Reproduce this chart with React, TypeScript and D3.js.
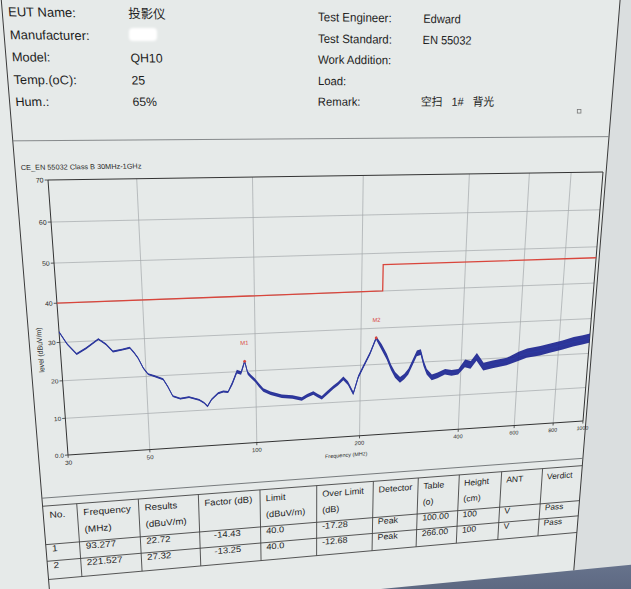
import React from 'react';
import * as d3 from 'd3';

// ---------------- data ----------------
const freqTicks = [30, 50, 100, 200, 400, 600, 800, 1000];
const freqTickLabels = ['30', '50', '100', '200', '400', '600', '800', '1000'];
const gridFreqs = [50, 100, 200, 400, 600, 800];
const levelTicks = [0, 10, 20, 30, 40, 50, 60, 70];
const levelTickLabels = ['0.0', '10', '20', '30', '40', '50', '60', '70'];

const limitFreq = [30, 230, 230, 1000];
const limitLevel = [40, 40, 47, 47];

const traceFreq = [
  30, 31.3, 33, 35, 37.8, 39.5, 41.1, 43.5, 45.6, 46.7, 47.8, 49.2, 50.6, 52.5, 55.5, 57, 58.7, 61.5, 65, 69.3,
  71.5, 73, 75, 78.3, 81, 83.5, 86, 88.6, 91, 93.277, 95, 97, 99.5, 102, 104.9, 110, 118.4, 127, 135.1, 140,
  145.9, 150, 154.4, 160, 166.8, 172, 178.3, 184, 190.9, 197.2, 203.9, 213, 221.527, 230, 238.6, 246, 253.3, 262.3, 270, 277.4,
  293, 301, 308, 315.1, 326.8, 340, 358, 375, 393, 411, 428, 445.5, 468.8, 500, 553, 600, 637, 700, 752, 820,
  889, 950, 1000,
];
const traceLevel = [
  32.7, 29.5, 26.8, 28.2, 30.4, 29.0, 27.0, 27.4, 27.8, 26.5, 25.0, 22.3, 20.6, 20.0, 19.0, 17.0, 14.3, 13.5, 13.8, 12.9,
  12.0, 11.0, 12.8, 14.4, 14.8, 14.6, 17.0, 20.0, 19.6, 22.72, 19.5, 18.5, 17.4, 16.0, 14.6, 13.6, 12.6, 12.2, 11.5, 12.3,
  13.0, 12.2, 11.5, 12.8, 14.3, 15.2, 16.6, 15.2, 12.2, 16.8, 19.6, 23.2, 27.32, 24.8, 22.0, 19.0, 16.8, 15.3, 16.2, 17.5,
  22.5, 22.8, 19.5, 17.2, 15.5, 16.0, 16.9, 16.5, 16.7, 19.0, 18.5, 20.7, 17.8, 18.3, 18.9, 20.2, 21.0, 21.5, 22.1, 22.8,
  23.6, 24.0, 24.4,
];
// half-width of the noisy trace band, per frequency band
const noiseBandEdges = [30, 85, 230, 400, 600, 1000];
const noiseBandSpread = [0.25, 0.5, 0.8, 1.1, 1.35];

const markerNames = ['M1', 'M2'];
const markerFreq = [93.277, 221.527];
const markerLevel = [22.72, 27.32];

const chartTitle = 'CE_EN 55032 Class B 30MHz-1GHz';
const xAxisTitle = 'Frequency (MHz)';
const yAxisTitle = 'level (dBuV/m)';

const infoLeftLabels = ['EUT Name:', 'Manufacturer:', 'Model:', 'Temp.(oC):', 'Hum.:'];
const infoLeftValues = ['投影仪', '', 'QH10', '25', '65%'];
const infoRightLabels = ['Test Engineer:', 'Test Standard:', 'Work Addition:', 'Load:', 'Remark:'];
const infoRightValues = ['Edward', 'EN 55032', '', '', '空扫   1#   背光'];

const tableHead1 = ['No.', 'Frequency', 'Results', 'Factor (dB)', 'Limit', 'Over Limit', 'Detector', 'Table', 'Height', 'ANT', 'Verdict'];
const tableHead2 = ['', '(MHz)', '(dBuV/m)', '', '(dBuV/m)', '(dB)', '', '(o)', '(cm)', '', ''];
const tableRow1 = ['1', '93.277', '22.72', '-14.43', '40.0', '-17.28', 'Peak', '100.00', '100', 'V', 'Pass'];
const tableRow2 = ['2', '221.527', '27.32', '-13.25', '40.0', '-12.68', 'Peak', '266.00', '100', 'V', 'Pass'];

// ---------------- layout (flat screen coords -> photo perspective) ----------------
const W = 631, H = 589;
const PX0 = 48, PX1 = 603, PY0 = 180, PY1 = 455;

function squareToQuad(p0: number[], p1: number[], p2: number[], p3: number[]) {
  const [x0, y0] = p0, [x1, y1] = p1, [x2, y2] = p2, [x3, y3] = p3;
  const dx1 = x1 - x2, dx2 = x3 - x2, dx3 = x0 - x1 + x2 - x3;
  const dy1 = y1 - y2, dy2 = y3 - y2, dy3 = y0 - y1 + y2 - y3;
  const den = dx1 * dy2 - dx2 * dy1;
  const g = (dx3 * dy2 - dx2 * dy3) / den;
  const h = (dx1 * dy3 - dx3 * dy1) / den;
  return { a: x1 - x0 + g * x1, b: x3 - x0 + h * x3, c: x0, d: y1 - y0 + g * y1, e: y3 - y0 + h * y3, f: y0, g, h };
}
const Q = squareToQuad([48, 180], [603, 172], [583, 421], [68, 455]);

function proj(fx: number, fy: number): [number, number] {
  const u = (fx - PX0) / (PX1 - PX0), v = (fy - PY0) / (PY1 - PY0);
  const w = Q.g * u + Q.h * v + 1;
  return [(Q.a * u + Q.b * v + Q.c) / w, (Q.d * u + Q.e * v + Q.f) / w];
}
function localMatrix(fx: number, fy: number) {
  const p = proj(fx, fy), px = proj(fx + 1, fy), py = proj(fx, fy + 1);
  return `matrix(${px[0] - p[0]} ${px[1] - p[1]} ${py[0] - p[0]} ${py[1] - p[1]} ${p[0]} ${p[1]})`;
}

const SANS = "'Liberation Sans', Arial, 'Noto Sans CJK SC', sans-serif";

function FText(props: any) {
  const { fx, fy, size, anchor = 'start', rot = 0, fill = '#1d1d1d', children, pre = false } = props;
  return (
    <text
      transform={localMatrix(fx, fy) + (rot ? ` rotate(${rot})` : '')}
      fontSize={size}
      textAnchor={anchor}
      fill={fill}
      fontFamily={SANS}
      style={pre ? { whiteSpace: 'pre' } : undefined}
    >
      {children}
    </text>
  );
}

function FLine(props: any) {
  const { x1, y1, x2, y2, stroke = '#444', sw = 1 } = props;
  const a = proj(x1, y1), b = proj(x2, y2);
  return <line x1={a[0]} y1={a[1]} x2={b[0]} y2={b[1]} stroke={stroke} strokeWidth={sw} />;
}

export default function App() {
  const xS = d3.scaleLog().domain([30, 1000]).range([PX0, PX1]);
  const yS = d3.scaleLinear().domain([0, 70]).range([PY1, PY0]);
  const line = d3.line();

  const spreadOf = (f: number) => {
    const i = d3.bisectRight(noiseBandEdges, f) - 1;
    return noiseBandSpread[Math.max(0, Math.min(noiseBandSpread.length - 1, i))];
  };
  const tracePts = traceFreq.map((f, i) => proj(xS(f), yS(traceLevel[i])));
  const upper = traceFreq.map((f, i) => proj(xS(f), yS(traceLevel[i] + spreadOf(f))));
  const lower = traceFreq.map((f, i) => proj(xS(f), yS(traceLevel[i] - spreadOf(f)))).reverse();
  const bandPath = (line(upper.concat(lower)) || '') + 'Z';
  const limitPts = limitFreq.map((f, i) => proj(xS(f), yS(limitLevel[i])));

  // page frame (flat coords)
  const pageL = 19.5, pageR = 606.5, pageBottom = 640.6;
  const sepY = 144;
  const tableTopLine = 500;
  const colX = [19.5, 53.1, 114.8, 176.4, 241.1, 302.1, 364.3, 414.7, 461.5, 510.6, 558.9, 606.5];
  const rowY = [508.9, 552, 571, 592];
  const infoRowY = [35.5, 55, 74, 93.7, 113];

  const rt = proj(pageR, -80), rb = proj(pageR, 700);
  const bl = proj(-50, pageBottom), br = proj(800, pageBottom);

  return (
    <svg width={W} height={H} style={{ position: 'absolute', left: 0, top: 0, display: 'block' }} xmlns="http://www.w3.org/2000/svg">
      <defs>
        <filter id="soft" x="-20%" y="-30%" width="140%" height="160%">
          <feGaussianBlur stdDeviation="1" />
        </filter>
        <linearGradient id="bezel" x1="0" y1="0" x2="0" y2="1">
          <stop offset="0" stopColor="#6a7690" />
          <stop offset="1" stopColor="#3e4960" />
        </linearGradient>
      </defs>
      <rect x={0} y={0} width={W} height={H} fill="#e6eae9" />
      <polygon points={`${rt[0]},${rt[1]} ${W + 60},${rt[1]} ${W + 60},${rb[1]} ${rb[0]},${rb[1]}`} fill="#dadedf" />
      <polygon points={`${bl[0]},${bl[1]} ${br[0]},${br[1]} ${br[0]},${H + 80} ${bl[0]},${H + 80}`} fill="url(#bezel)" />

      {/* page borders and separators */}
      <FLine x1={pageL} y1={-80} x2={pageL} y2={pageBottom} stroke="#3a3a3a" sw={1} />
      <FLine x1={pageR} y1={-80} x2={pageR} y2={pageBottom} stroke="#3a3a3a" sw={1} />
      <FLine x1={pageL} y1={sepY} x2={pageR} y2={sepY} stroke="#7a7e80" sw={0.9} />
      <FLine x1={pageL} y1={tableTopLine} x2={pageR} y2={tableTopLine} stroke="#6a6e70" sw={0.9} />

      {/* header info */}
      {infoLeftLabels.map((t, i) => (
        <FText key={'ll' + i} fx={24.5} fy={infoRowY[i]} size={11}>{t}</FText>
      ))}
      {infoLeftValues.map((t, i) => t ? (
        <FText key={'lv' + i} fx={128.5} fy={infoRowY[i]} size={11}>{t}</FText>
      ) : null)}
      {infoRightLabels.map((t, i) => (
        <FText key={'rl' + i} fx={302.6} fy={infoRowY[i]} size={11}>{t}</FText>
      ))}
      {infoRightValues.map((t, i) => t ? (
        <FText key={'rv' + i} fx={405} fy={infoRowY[i]} size={11} pre>{t}</FText>
      ) : null)}
      <rect x={129} y={28} width={28} height={13} rx={4} fill="#ffffff" filter="url(#soft)" />
      {(() => {
        const p = proj(571.6, 118.5);
        return <rect x={p[0] - 1.8} y={p[1] - 1.8} width={3.6} height={3.6} fill="none" stroke="#777" strokeWidth={0.8} />;
      })()}

      {/* chart title */}
      <FText fx={24.7} fy={170.5} size={6.5} fill="#2a2a2a">{chartTitle}</FText>

      {/* grid */}
      {levelTicks.filter((t) => t > 0 && t < 70).map((t) => (
        <FLine key={'gy' + t} x1={PX0} y1={yS(t)} x2={PX1} y2={yS(t)} stroke="#a3a8ab" sw={0.7} />
      ))}
      {gridFreqs.map((f) => (
        <FLine key={'gx' + f} x1={xS(f)} y1={PY0} x2={xS(f)} y2={PY1} stroke="#a3a8ab" sw={0.7} />
      ))}

      {/* plot frame & axes */}
      <FLine x1={PX0} y1={PY0} x2={PX1} y2={PY0} stroke="#333" sw={1} />
      <FLine x1={PX1} y1={PY0} x2={PX1} y2={PY1} stroke="#333" sw={1} />
      <FLine x1={PX0} y1={PY0} x2={PX0} y2={PY1} stroke="#333" sw={1} />
      <FLine x1={PX0} y1={PY1} x2={PX1} y2={PY1} stroke="#333" sw={1} />
      {levelTicks.map((t, i) => (
        <g key={'yt' + t}>
          <FLine x1={PX0 - 3} y1={yS(t)} x2={PX0} y2={yS(t)} stroke="#333" sw={0.8} />
          <FText fx={PX0 - 4} fy={yS(t) + 2.3} size={6.3} anchor="end" fill="#2a2a2a">{levelTickLabels[i]}</FText>
        </g>
      ))}
      {freqTicks.map((f, i) => (
        <g key={'xt' + f}>
          <FLine x1={xS(f)} y1={PY1} x2={xS(f)} y2={PY1 + 3} stroke="#333" sw={0.8} />
          <FText fx={xS(f)} fy={PY1 + 10.5} size={6.3} anchor="middle" fill="#2a2a2a">{freqTickLabels[i]}</FText>
        </g>
      ))}
      <FText fx={334} fy={478} size={6} anchor="middle" fill="#2a2a2a">{xAxisTitle}</FText>
      <FText fx={31.5} fy={344} size={7} anchor="middle" rot={-90} fill="#2a2a2a">{yAxisTitle}</FText>

      {/* limit line */}
      <path d={line(limitPts) || ''} fill="none" stroke="#d9463c" strokeWidth={1.3} />

      {/* trace */}
      <path d={bandPath} fill="#1d2590" stroke="none" opacity={0.92} />
      <path d={line(tracePts) || ''} fill="none" stroke="#2c3aa2" strokeWidth={1} />

      {/* markers */}
      {markerNames.map((m, i) => {
        const p = proj(xS(markerFreq[i]), yS(markerLevel[i]));
        return (
          <g key={m}>
            <circle cx={p[0]} cy={p[1]} r={1.4} fill="#d9463c" />
            <FText fx={xS(markerFreq[i])} fy={yS(markerLevel[i] + 5) + 2.2} size={6} anchor="middle" fill="#d9463c">{m}</FText>
          </g>
        );
      })}

      {/* result table */}
      {rowY.map((y, i) => (
        <FLine key={'tr' + i} x1={pageL} y1={y} x2={pageR} y2={y} stroke="#444" sw={0.9} />
      ))}
      {colX.slice(1, -1).map((x, i) => (
        <FLine key={'tc' + i} x1={x} y1={rowY[0]} x2={x} y2={rowY[rowY.length - 1]} stroke="#444" sw={0.9} />
      ))}
      {tableHead1.map((t, i) => (
        <FText key={'h1' + i} fx={colX[i] + 6} fy={522.5} size={10}>{t}</FText>
      ))}
      {tableHead2.map((t, i) => t ? (
        <FText key={'h2' + i} fx={colX[i] + 6} fy={541.5} size={10}>{t}</FText>
      ) : null)}
      {tableRow1.map((t, i) => (
        <FText key={'r1' + i} fx={colX[i] + (i === 3 ? 15 : 6)} fy={560.5} size={10}>{t}</FText>
      ))}
      {tableRow2.map((t, i) => (
        <FText key={'r2' + i} fx={colX[i] + (i === 3 ? 15 : 6)} fy={579.5} size={10}>{t}</FText>
      ))}
    </svg>
  );
}
